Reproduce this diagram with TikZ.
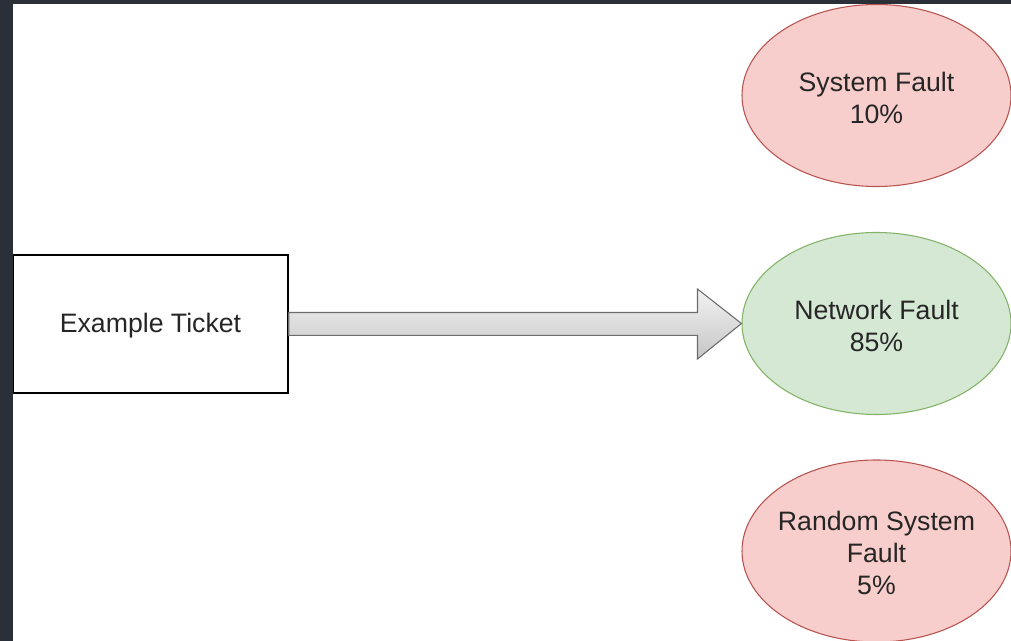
\documentclass[tikz,border=0pt]{standalone}
\usepackage{fontspec}
\setmainfont{Liberation Sans}
\usetikzlibrary{shapes.geometric,calc}
\definecolor{pinkfill}{HTML}{F8CECC}
\definecolor{pinkline}{HTML}{B85450}
\definecolor{greenfill}{HTML}{D5E8D4}
\definecolor{greenline}{HTML}{82B366}
\definecolor{darkframe}{HTML}{2B2F38}
\definecolor{txt}{HTML}{262626}
\tikzset{
  every node/.style={font=\fontsize{20}{24}\selectfont, text=txt},
  ticketbox/.style={draw=black, line width=1.1pt, fill=white, minimum width=206.25pt, minimum height=103.5pt, inner sep=0pt},
  faultell/.style={ellipse, line width=0.8pt, minimum width=201.75pt, minimum height=136.5pt, inner sep=0pt},
  redell/.style={faultell, draw=pinkline, fill=pinkfill},
  greenell/.style={faultell, draw=greenline, fill=greenfill},
  elltext/.style={align=center, inner sep=0pt},
  bigarrow/.style={draw=gray!85!black, line width=0.8pt, top color=gray!10, bottom color=gray!45}
}
\begin{document}
\begin{tikzpicture}[x=0.75pt, y=-0.75pt]
  \fill[white] (0,0) rectangle (1011,641);
  \useasboundingbox (0,0) rectangle (1011,641);
  \node[ticketbox] (ticket) at (150.5,324) {};
  \node[elltext] (tickettext) at (150.5,326) {Example Ticket};
  \node[redell] (sys) at (876.5,95.5) {};
  \node[elltext] (systext) at (876.5,98) {System Fault\\10\%};
  \node[greenell] (net) at (876.5,323.5) {};
  \node[elltext] (nettext) at (876.5,326) {Network Fault\\85\%};
  \node[redell] (rnd) at (876.5,551) {};
  \node[elltext] (rndtext) at (876.5,553) {Random System\\Fault\\5\%};
  \path let \p1=(ticket.east), \p2=(net.west) in
    [bigarrow] (\x1,\y1+8.6pt) -- (\x2-33pt,\y1+8.6pt) -- (\x2-33pt,\y1+26.25pt)
    -- (\x2,\y2) -- (\x2-33pt,\y1-26.25pt) -- (\x2-33pt,\y1-8.6pt)
    -- (\x1,\y1-8.6pt) -- cycle;
  \fill[darkframe] (0,0) rectangle (13,641);
  \fill[darkframe] (0,0) rectangle (1011,4.5);
\end{tikzpicture}
\end{document}
